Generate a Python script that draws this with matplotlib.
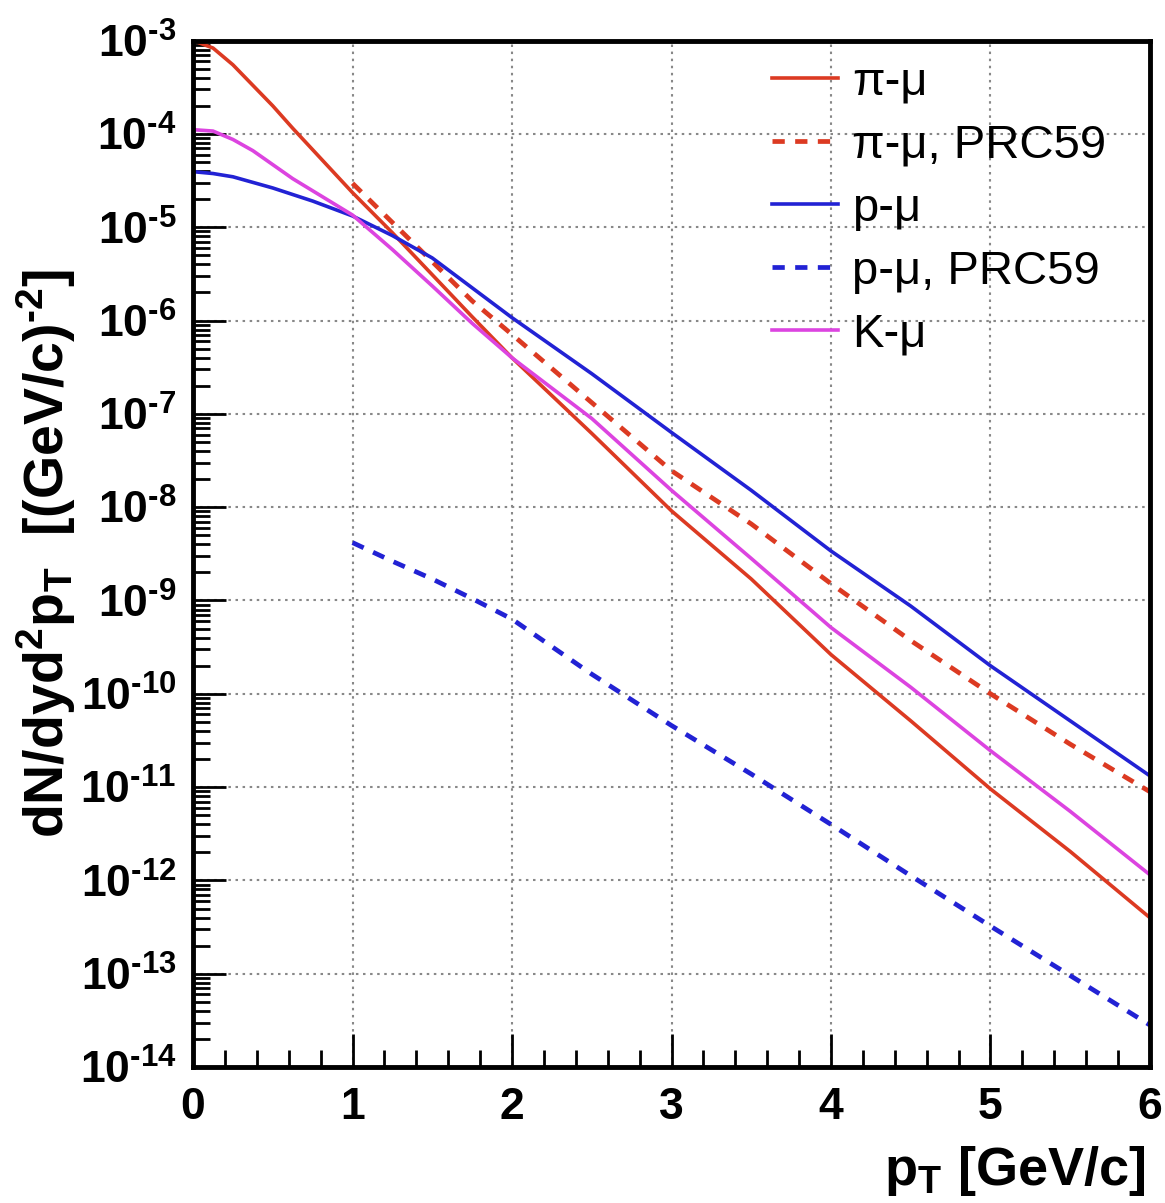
import numpy as np
import matplotlib
matplotlib.use("Agg")
import matplotlib.pyplot as plt
from matplotlib.ticker import FixedLocator, LogLocator, NullFormatter, FuncFormatter

plt.rcParams['font.family'] = ['Liberation Sans', 'DejaVu Sans']
plt.rcParams['mathtext.fontset'] = 'custom'
plt.rcParams['mathtext.rm'] = 'Liberation Sans:bold'
plt.rcParams['mathtext.bf'] = 'Liberation Sans:bold'
plt.rcParams['mathtext.it'] = 'Liberation Sans:bold'

# pT grid (GeV/c)
pt_full = [0.0, 0.125, 0.25, 0.375, 0.5, 0.625, 0.75, 0.875, 1.0, 1.25, 1.5, 1.75, 2.0,
           2.5, 3.0, 3.5, 4.0, 4.5, 5.0, 5.5, 6.0]
pt_prc = [1.0, 1.25, 1.5, 1.75, 2.0, 2.5, 3.0, 3.5, 4.0, 4.5, 5.0, 5.5, 6.0]

# log10 of dN/dyd2pT
log_pi = [-3.00, -3.08, -3.26, -3.48, -3.70, -3.94, -4.17, -4.40, -4.63, -5.06, -5.51, -5.96, -6.40,
          -7.21, -8.04, -8.77, -9.58, -10.29, -11.02, -11.69, -12.40]
log_p = [-4.405, -4.425, -4.46, -4.52, -4.58, -4.65, -4.72, -4.80, -4.88, -5.09, -5.33, -5.65, -5.97,
         -6.57, -7.20, -7.82, -8.47, -9.06, -9.70, -10.29, -10.88]
log_k = [-3.955, -3.97, -4.06, -4.18, -4.33, -4.48, -4.61, -4.74, -4.87, -5.24, -5.63, -6.03, -6.40,
         -7.05, -7.82, -8.55, -9.29, -9.93, -10.61, -11.26, -11.94]
log_pi_prc = [-4.53, -4.95, -5.37, -5.79, -6.15, -6.88, -7.61, -8.18, -8.82, -9.43, -10.00, -10.54, -11.05]
log_p_prc = [-8.38, -8.58, -8.77, -8.98, -9.20, -9.79, -10.34, -10.86, -11.40, -11.95, -12.49, -13.02, -13.55]

labels = ['π-μ', 'π-μ, PRC59', 'p-μ', 'p-μ, PRC59', 'K-μ']
c_red, c_blue, c_mag = '#dc3a22', '#2222d4', '#dc44e0'

fig = plt.figure(figsize=(11.65, 12.03), dpi=100)
ax = fig.add_axes([0.1657, 0.1130, 0.8214, 0.8533])

lw = 2.6
ax.plot(pt_full, 10**np.array(log_pi), color=c_red, lw=lw, label=labels[0])
ax.plot(pt_prc, 10**np.array(log_pi_prc), color=c_red, lw=lw + 0.8, dashes=[2.6, 2.2], label=labels[1])
ax.plot(pt_full, 10**np.array(log_p), color=c_blue, lw=lw, label=labels[2])
ax.plot(pt_prc, 10**np.array(log_p_prc), color=c_blue, lw=lw + 0.8, dashes=[2.6, 2.2], label=labels[3])
ax.plot(pt_full, 10**np.array(log_k), color=c_mag, lw=lw, label=labels[4])

ax.set_yscale('log')
ax.set_xlim(0, 6)
ax.set_ylim(1e-14, 1e-3)

ax.xaxis.set_major_locator(FixedLocator([0, 1, 2, 3, 4, 5, 6]))
ax.xaxis.set_minor_locator(FixedLocator(np.arange(0, 6.01, 0.2)))
ax.yaxis.set_major_locator(LogLocator(base=10, numticks=20))
ax.yaxis.set_minor_locator(LogLocator(base=10, subs=np.arange(2, 10), numticks=200))
ax.yaxis.set_minor_formatter(NullFormatter())
ax.yaxis.set_major_formatter(FuncFormatter(
    lambda v, p: r'$\mathbf{10^{\text{-}%d}}$' % abs(int(round(np.log10(v))))))
ax.xaxis.set_major_formatter(FuncFormatter(lambda v, p: '%d' % int(round(v))))

ax.tick_params(which='both', direction='in', top=False, right=False, width=2, color='black')
ax.tick_params(which='major', length=24, labelsize=32)
ax.tick_params(which='minor', length=12)
ax.tick_params(axis='y', which='major', pad=12)
ax.tick_params(axis='x', which='major', pad=14)
for lab in ax.get_xticklabels():
    lab.set_fontweight('bold')

ax.grid(True, which='major', color='#888888', linestyle=(0, (1.2, 2.2)), linewidth=1.5)
for s in ax.spines.values():
    s.set_linewidth(3.5)

ax.set_xlabel(r'$\mathbf{p_{T}}$ [GeV/c]', fontsize=39, fontweight='bold', ha='right', x=1.0)
ax.set_ylabel(r'$\mathbf{dN/dyd^{2}p_{T}}$  [(GeV/c)$^{\mathbf{\text{-}2}}$]', fontsize=40,
              fontweight='bold', ha='center')
ax.xaxis.set_label_coords(0.995, -0.075)
ax.yaxis.set_label_coords(-0.12, 0.5)

leg = ax.legend(loc='upper left', bbox_to_anchor=(0.585, 0.9985), frameon=False, fontsize=34,
                handlelength=1.4, handletextpad=0.3, labelspacing=0.40, borderaxespad=0)

fig.savefig('out.png', dpi=100, facecolor='white')
